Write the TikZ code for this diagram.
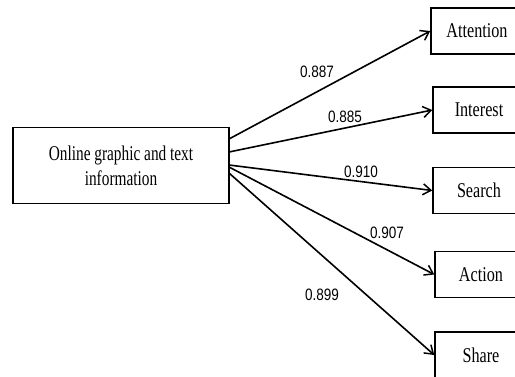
\documentclass[tikz,border=0pt]{standalone}
\usepackage{fontspec}
\usetikzlibrary{arrows.meta}
\newfontfamily\boxfont[FakeStretch=0.73]{Liberation Serif}
\newfontfamily\rboxfont[FakeStretch=0.77]{Liberation Serif}
\newfontfamily\labfont[FakeStretch=0.82]{Liberation Sans}
\tikzset{
  x=1pt, y=-1pt,
  srcbox/.style={draw, line width=1.5pt, minimum width=216pt, minimum height=76pt, inner sep=0pt, align=center,
    font=\boxfont\fontsize{21}{25}\selectfont},
  tgtbox/.style={draw, line width=1.5pt, minimum width=92pt, minimum height=46pt, inner sep=0pt,
    font=\rboxfont\fontsize{21}{24}\selectfont},
  conn/.style={line width=1.6pt, -{Straight Barb[length=8pt,width=11pt,line width=1.5pt]}},
  wt/.style={font=\labfont\fontsize{16.5}{18}\selectfont, inner sep=0pt}
}
\begin{document}
\begin{tikzpicture}
\useasboundingbox (0,0) rectangle (515,376);
\clip (0,0) rectangle (515,376);
\node[srcbox] (L) at (121,165.5) {Online graphic and text\\information};
\node[tgtbox] (A) at (477,31) {Attention};
\node[tgtbox] (I) at (479,110) {Interest};
\node[tgtbox] (S) at (479,190.5) {Search};
\node[tgtbox] (C) at (481,274.5) {Action};
\node[tgtbox] (H) at (481,355) {Share};
\coordinate (s1) at (229,139);
\coordinate (s2) at (229,152);
\coordinate (s3) at (229,165);
\coordinate (s4) at (229,167);
\coordinate (s5) at (229,173);
\draw[conn] (s1) -- (A.west);
\draw[conn] (s2) -- (I.west);
\draw[conn] (s3) -- (S.west);
\draw[conn] (s4) -- (C.west);
\draw[conn] (s5) -- (H.west);
\node[wt] (w1) at (317,72) {0.887};
\node[wt] (w2) at (345,117) {0.885};
\node[wt] (w3) at (361,172) {0.910};
\node[wt] (w4) at (387,233) {0.907};
\node[wt] (w5) at (322,295) {0.899};
\end{tikzpicture}
\end{document}
